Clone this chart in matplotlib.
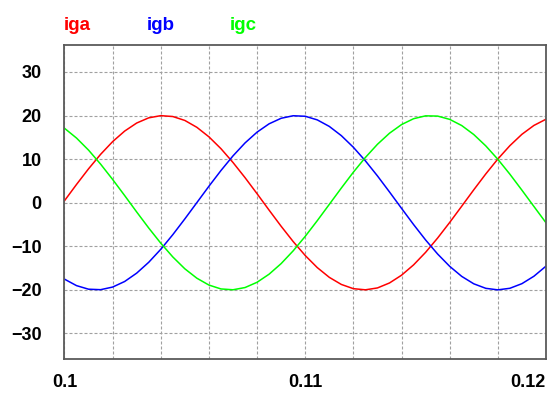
import matplotlib
matplotlib.use("Agg")
import matplotlib.pyplot as plt
from matplotlib.ticker import MultipleLocator

time = [0.1000, 0.1005, 0.1010, 0.1015, 0.1020, 0.1025, 0.1030, 0.1035, 0.1040, 0.1045,
        0.1050, 0.1055, 0.1060, 0.1065, 0.1070, 0.1075, 0.1080, 0.1085, 0.1090, 0.1095,
        0.1100, 0.1105, 0.1110, 0.1115, 0.1120, 0.1125, 0.1130, 0.1135, 0.1140, 0.1145,
        0.1150, 0.1155, 0.1160, 0.1165, 0.1170, 0.1175, 0.1180, 0.1185, 0.1190, 0.1195,
        0.1200]
iga = [0.45, 4.19, 7.78, 11.10, 14.02, 16.44, 18.29, 19.48, 19.98, 19.78,
       18.88, 17.30, 15.12, 12.40, 9.23, 5.75, 2.06, -1.71, -5.41, -8.92,
       -12.12, -14.89, -17.13, -18.76, -19.73, -19.99, -19.56, -18.42, -16.64, -14.27,
       -11.39, -8.10, -4.53, -0.80, 2.96, 6.61, 10.03, 13.09, 15.70, 17.74,
       19.16]
igb = [-17.54, -19.03, -19.85, -19.96, -19.36, -18.08, -16.16, -13.67, -10.69, -7.33,
       -3.71, 0.03, 3.78, 7.39, 10.75, 13.72, 16.20, 18.11, 19.38, 19.96,
       19.84, 19.01, 17.51, 15.39, 12.72, 9.60, 6.15, 2.47, -1.29, -5.01,
       -8.55, -11.78, -14.60, -16.91, -18.61, -19.65, -20.00, -19.64, -18.58, -16.87,
       -14.56]
igc = [17.09, 14.84, 12.07, 8.86, 5.34, 1.64, -2.13, -5.81, -9.29, -12.45,
       -15.17, -17.33, -18.90, -19.79, -19.98, -19.47, -18.26, -16.40, -13.97, -11.04,
       -7.72, -4.12, -0.38, 3.37, 7.01, 10.39, 13.41, 15.95, 17.93, 19.28,
       19.94, 19.88, 19.13, 17.71, 15.65, 13.04, 9.97, 6.55, 2.88, -0.87,
       -4.60]

series = [("iga", iga, "#ff0000"), ("igb", igb, "#0000ff"), ("igc", igc, "#00ff00")]
x_labels = [0.1, 0.11, 0.12]
y_ticks = [-30, -20, -10, 0, 10, 20, 30]

plt.rcParams["font.family"] = ["Liberation Sans", "DejaVu Sans"]

fig = plt.figure(figsize=(5.52, 3.96), dpi=100)
ax = fig.add_axes([0.1168, 0.0942, 0.8723, 0.7922])

for name, vals, col in series:
    ax.plot(time, vals, color=col, lw=1.1)

ax.set_xlim(0.1, 0.12)
ax.set_ylim(-35.8, 36.2)
ax.set_xticks(x_labels)
ax.set_xticklabels([str(v) for v in x_labels])
ax.xaxis.set_minor_locator(MultipleLocator(0.002))
ax.set_yticks(y_ticks)
ax.grid(True, which="both", color="#a0a0a0", lw=0.8, linestyle=(0, (2.7, 1.8)))
ax.tick_params(which="both", length=0)
ax.tick_params(axis="y", pad=16.5, labelsize=13)
ax.tick_params(axis="x", pad=11, labelsize=13)
for lab in ax.get_xticklabels() + ax.get_yticklabels():
    lab.set_fontweight("bold")
ax.get_xticklabels()[-1].set_horizontalalignment("right")

for sp in ax.spines.values():
    sp.set_color("#5a5a5a")
    sp.set_linewidth(1.3)

# legend-style labels above the plot
for (name, vals, col), xpix in zip(series, [64, 147, 230]):
    fig.text(xpix / 552, 1 - 29.5 / 396, name, color=col, fontsize=13.5,
             fontweight="bold", ha="left", va="baseline")

fig.savefig("out.png", dpi=100)
